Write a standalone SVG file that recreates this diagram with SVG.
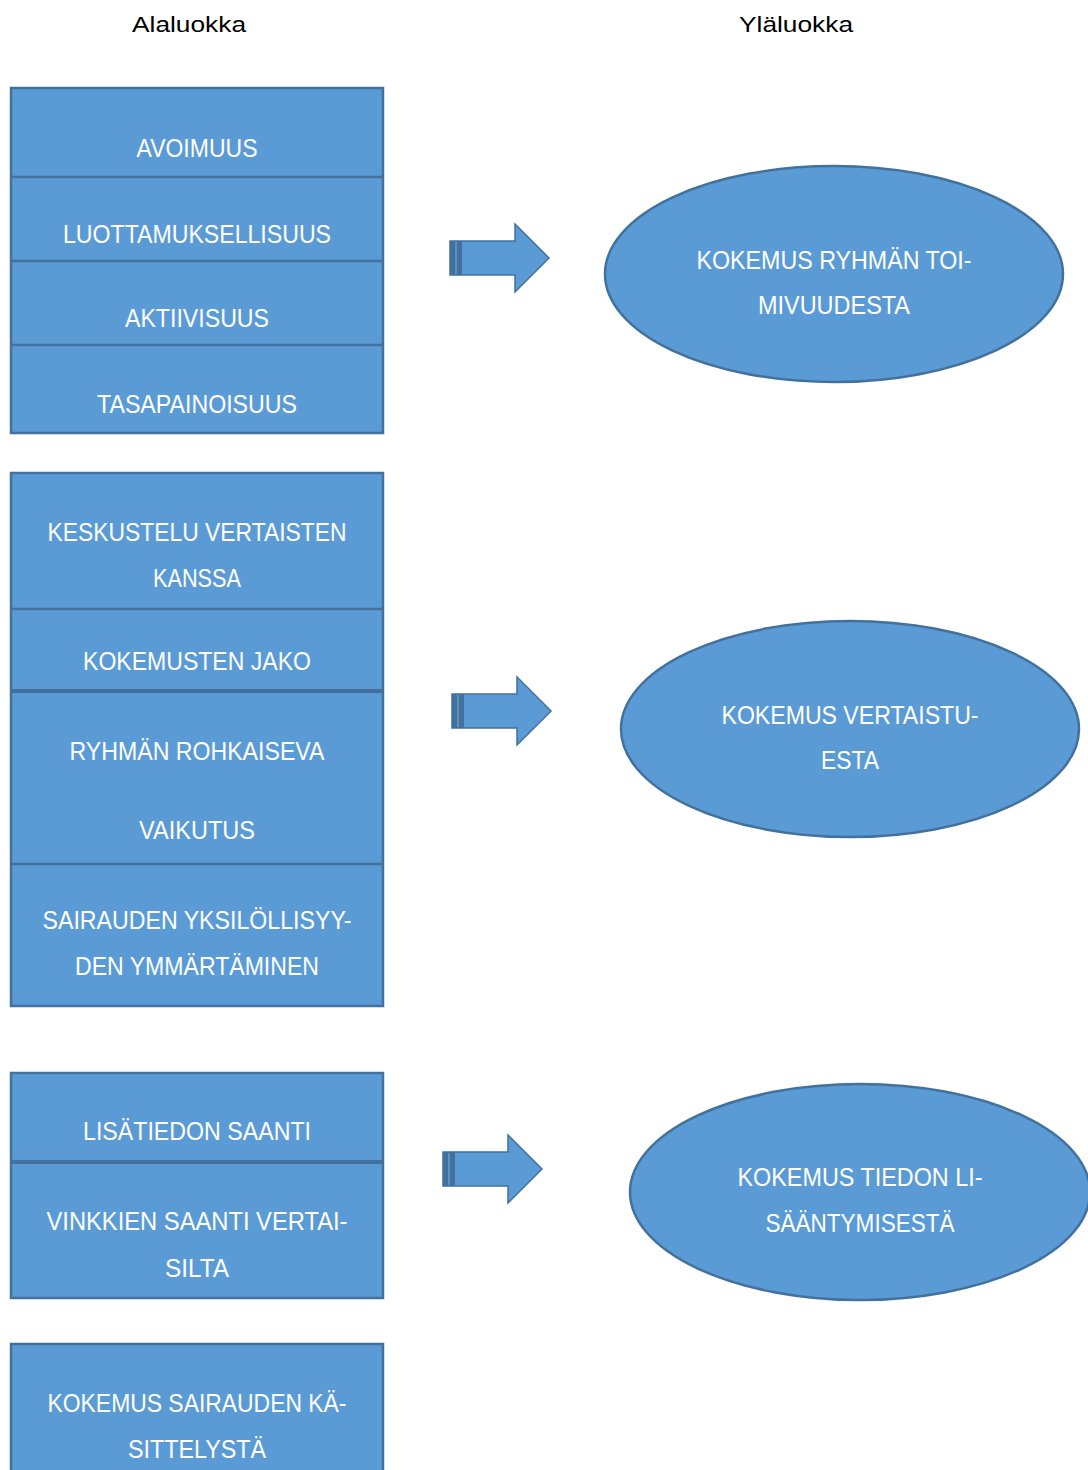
<svg xmlns="http://www.w3.org/2000/svg" width="1088" height="1470" viewBox="0 0 1088 1470">
<style>
.box{fill:#5B9BD5;stroke:#41719C;stroke-width:2.5}
.div{stroke:#41719C;stroke-width:2.5}
.divb{stroke:#41719C;stroke-width:4}
.t{font-family:"Liberation Sans","DejaVu Sans",sans-serif;font-size:25px;fill:#ffffff;text-anchor:middle}
.h{font-family:"Liberation Sans","DejaVu Sans",sans-serif;font-size:22px;fill:#000000;text-anchor:middle}
.arr{fill:#5B9BD5;stroke:#41719C;stroke-width:1.5}
</style>
<defs>
<g id="arrow">
<polygon class="arr" points="0,-17 65,-17 65,-34 99,0 65,34 65,17 0,17"/>
<rect x="0" y="-17" width="12" height="34" fill="#41719C"/>
<line x1="6" y1="-16" x2="6" y2="16" stroke="#6FA8DC" stroke-width="1.2"/>
</g>
</defs>
<g id="titles">
<text class="h" x="189" y="32" textLength="114" lengthAdjust="spacingAndGlyphs">Alaluokka</text>
<text class="h" x="796" y="32" textLength="114" lengthAdjust="spacingAndGlyphs">Yläluokka</text>
</g>
<g id="group1">
<rect class="box" x="11" y="88" width="372" height="345"/>
<line class="div" x1="11" y1="177" x2="383" y2="177"/>
<line class="div" x1="11" y1="261" x2="383" y2="261"/>
<line class="div" x1="11" y1="345" x2="383" y2="345"/>
<text class="t" x="197" y="157" textLength="121" lengthAdjust="spacingAndGlyphs">AVOIMUUS</text>
<text class="t" x="197" y="243" textLength="268" lengthAdjust="spacingAndGlyphs">LUOTTAMUKSELLISUUS</text>
<text class="t" x="197" y="327" textLength="144" lengthAdjust="spacingAndGlyphs">AKTIIVISUUS</text>
<text class="t" x="197" y="413" textLength="200" lengthAdjust="spacingAndGlyphs">TASAPAINOISUUS</text>
</g>
<g id="group2">
<rect class="box" x="11" y="473" width="372" height="533"/>
<line class="div" x1="11" y1="609" x2="383" y2="609"/>
<line class="divb" x1="11" y1="691" x2="383" y2="691"/>
<line class="div" x1="11" y1="864" x2="383" y2="864"/>
<text class="t" x="197" y="541" textLength="299" lengthAdjust="spacingAndGlyphs">KESKUSTELU VERTAISTEN</text>
<text class="t" x="197" y="587" textLength="88" lengthAdjust="spacingAndGlyphs">KANSSA</text>
<text class="t" x="197" y="670" textLength="228" lengthAdjust="spacingAndGlyphs">KOKEMUSTEN JAKO</text>
<text class="t" x="197" y="760" textLength="255" lengthAdjust="spacingAndGlyphs">RYHMÄN ROHKAISEVA</text>
<text class="t" x="197" y="839" textLength="116" lengthAdjust="spacingAndGlyphs">VAIKUTUS</text>
<text class="t" x="197" y="929" textLength="309" lengthAdjust="spacingAndGlyphs">SAIRAUDEN YKSILÖLLISYY-</text>
<text class="t" x="197" y="975" textLength="244" lengthAdjust="spacingAndGlyphs">DEN YMMÄRTÄMINEN</text>
</g>
<g id="group3">
<rect class="box" x="11" y="1073" width="372" height="225"/>
<line class="divb" x1="11" y1="1162" x2="383" y2="1162"/>
<text class="t" x="197" y="1140" textLength="228" lengthAdjust="spacingAndGlyphs">LISÄTIEDON SAANTI</text>
<text class="t" x="197" y="1230" textLength="301" lengthAdjust="spacingAndGlyphs">VINKKIEN SAANTI VERTAI-</text>
<text class="t" x="197" y="1277" textLength="64" lengthAdjust="spacingAndGlyphs">SILTA</text>
</g>
<g id="group4">
<rect class="box" x="11" y="1344" width="372" height="140"/>
<text class="t" x="197" y="1412" textLength="299" lengthAdjust="spacingAndGlyphs">KOKEMUS SAIRAUDEN KÄ-</text>
<text class="t" x="197" y="1458" textLength="138" lengthAdjust="spacingAndGlyphs">SITTELYSTÄ</text>
</g>
<g id="connectors">
<use href="#arrow" x="450" y="258"/>
<use href="#arrow" x="452" y="711"/>
<use href="#arrow" x="443" y="1169"/>
</g>
<g id="ellipse1">
<ellipse class="box" cx="834" cy="274" rx="229" ry="108"/>
<text class="t" x="834" y="269" textLength="275" lengthAdjust="spacingAndGlyphs">KOKEMUS RYHMÄN TOI-</text>
<text class="t" x="834" y="314" textLength="152" lengthAdjust="spacingAndGlyphs">MIVUUDESTA</text>
</g>
<g id="ellipse2">
<ellipse class="box" cx="850" cy="729" rx="229" ry="108"/>
<text class="t" x="850" y="724" textLength="257" lengthAdjust="spacingAndGlyphs">KOKEMUS VERTAISTU-</text>
<text class="t" x="850" y="769" textLength="58" lengthAdjust="spacingAndGlyphs">ESTA</text>
</g>
<g id="ellipse3">
<ellipse class="box" cx="860" cy="1192" rx="230" ry="108"/>
<text class="t" x="860" y="1186" textLength="245" lengthAdjust="spacingAndGlyphs">KOKEMUS TIEDON LI-</text>
<text class="t" x="860" y="1232" textLength="189" lengthAdjust="spacingAndGlyphs">SÄÄNTYMISESTÄ</text>
</g>
</svg>
